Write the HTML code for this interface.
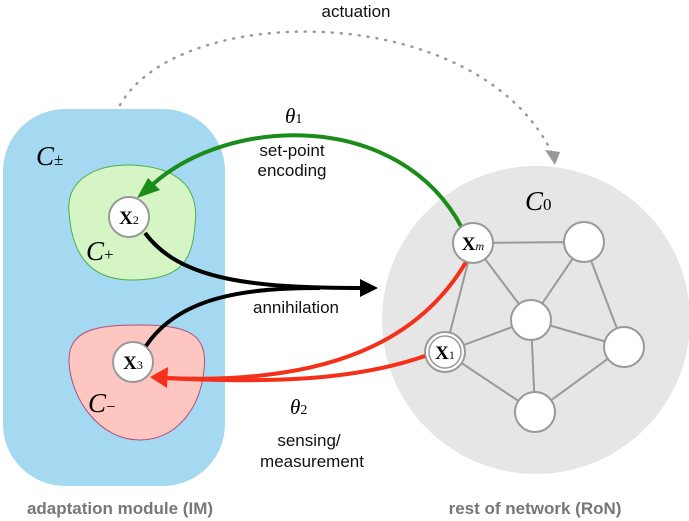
<!DOCTYPE html>
<html><head><style>body{margin:0;background:#fff}svg{display:block}</style></head>
<body>
<svg width="689" height="521" viewBox="0 0 689 521" xmlns="http://www.w3.org/2000/svg" font-family="Liberation Sans, sans-serif">
<rect x="3" y="109" width="222" height="377" rx="62" fill="#a4d9f1"/>
<path d="M69,212 C66,180 95,164 132,165 C175,167 200,185 195,225 C192,262 180,280 132,280 C90,280 72,255 69,212Z" fill="#d5f5c4" stroke="#4caf50" stroke-width="1"/>
<path d="M69,362 C68,330 95,325 140,325 C190,325 208,335 204,370 C200,410 175,440 140,440 C100,440 71,400 69,362Z" fill="#fdc6c0" stroke="#b0507a" stroke-width="1"/>
<circle cx="536" cy="320" r="154" fill="#e6e6e6"/>
<g stroke="#999" stroke-width="2">
<line x1="473" y1="243" x2="584" y2="242"/><line x1="473" y1="243" x2="531" y2="320"/><line x1="473" y1="243" x2="445" y2="352"/>
<line x1="584" y1="242" x2="531" y2="320"/><line x1="584" y1="242" x2="624" y2="347"/>
<line x1="531" y1="320" x2="445" y2="352"/><line x1="531" y1="320" x2="624" y2="347"/><line x1="531" y1="320" x2="535" y2="412"/>
<line x1="445" y1="352" x2="535" y2="412"/><line x1="624" y1="347" x2="535" y2="412"/>
</g>
<g fill="#fff" stroke="#999" stroke-width="2">
<circle cx="584" cy="242" r="20"/><circle cx="531" cy="320" r="20"/><circle cx="624" cy="347" r="20"/><circle cx="535" cy="412" r="20"/>
<circle cx="445" cy="352" r="20"/><circle cx="445" cy="352" r="16" stroke-width="1.5"/>
<circle cx="129" cy="217" r="20"/><circle cx="133" cy="362" r="20"/>
</g>
<path d="M120,105 C180,0 480,0 553,155" fill="none" stroke="#999" stroke-width="2.5" stroke-dasharray="1,8" stroke-linecap="round"/>
<polygon points="545,150 560,152 555,165" fill="#999"/>
<path d="M462,228 C400,110 230,115 152,185" fill="none" stroke="#1a8c1a" stroke-width="4"/>
<polygon points="137,198 148,178 160,190" fill="#1a8c1a"/>
<path d="M145,233 C180,280 250,288 365,288" fill="none" stroke="#000" stroke-width="4"/>
<path d="M146,346 C180,295 250,288 320,288" fill="none" stroke="#000" stroke-width="4"/>
<polygon points="378,288 360,279 360,297" fill="#000"/>
<path d="M466,262 C420,340 330,385 165,378" fill="none" stroke="#f4301a" stroke-width="4"/>
<path d="M425,356 C370,375 300,385 165,378" fill="none" stroke="#f4301a" stroke-width="4"/>
<circle cx="473" cy="243" r="20" fill="#fff" stroke="#999" stroke-width="2"/>
<polygon points="150,377 168,367 167,388" fill="#f4301a"/>
<g font-family="Liberation Serif, serif" font-size="19" text-anchor="middle">
<text x="129" y="224" font-weight="bold">X<tspan font-size="12" font-weight="normal">2</tspan></text>
<text x="133" y="369" font-weight="bold">X<tspan font-size="12" font-weight="normal">3</tspan></text>
<text x="473" y="250" font-weight="bold">X<tspan font-size="12" font-weight="normal" font-style="italic">m</tspan></text>
<text x="445" y="359" font-weight="bold">X<tspan font-size="12" font-weight="normal">1</tspan></text>
</g>
<g font-family="Liberation Serif, serif" font-style="italic" font-size="27">
<text x="36" y="165">C<tspan font-size="17" font-style="normal">±</tspan></text>
<text x="86" y="260">C<tspan font-size="17" font-style="normal">+</tspan></text>
<text x="88" y="412">C<tspan font-size="17" font-style="normal">−</tspan></text>
<text x="525" y="210">C<tspan font-size="17" font-style="normal">0</tspan></text>
<text x="285" y="123" font-size="21">θ<tspan font-size="14" font-style="normal">1</tspan></text>
<text x="290" y="414" font-size="21">θ<tspan font-size="14" font-style="normal">2</tspan></text>
</g>
<g font-size="17" text-anchor="middle" fill="#111">
<text x="356" y="17">actuation</text>
<text x="292" y="156">set-point</text>
<text x="292" y="176">encoding</text>
<text x="296" y="313">annihilation</text>
<text x="309" y="446">sensing/</text>
<text x="312" y="467">measurement</text>
</g>
<g font-size="17" font-weight="bold" fill="#777" text-anchor="middle">
<text x="120" y="514">adaptation module (IM)</text>
<text x="535" y="514">rest of network (RoN)</text>
</g>
</svg>
</body></html>
